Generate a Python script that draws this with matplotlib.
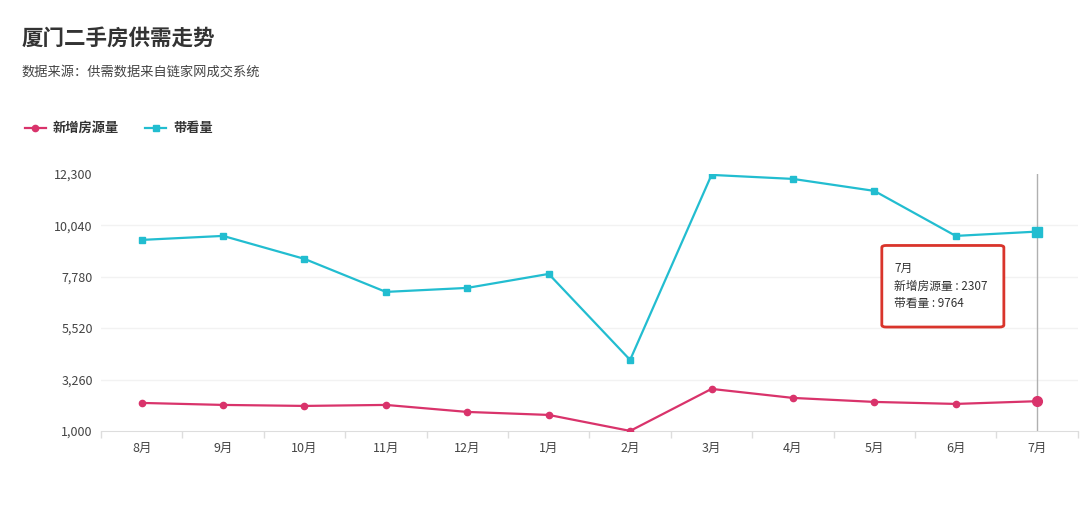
import matplotlib
matplotlib.use('Agg')
import matplotlib.pyplot as plt
from matplotlib.patches import FancyBboxPatch
import numpy as np

plt.rcParams['font.family'] = ['Noto Sans CJK SC', 'DejaVu Sans']

# data
months = ['8月', '9月', '10月', '11月', '12月', '1月', '2月', '3月', '4月', '5月', '6月', '7月']
new_listings = [2231, 2143, 2099, 2143, 1835, 1703, 1000, 2847, 2451, 2275, 2187, 2307]
viewings = [9398, 9574, 8563, 7112, 7288, 7903, 4122, 12256, 12080, 11553, 9574, 9764]
yticks = [1000, 3260, 5520, 7780, 10040, 12300]

pink = '#d9336b'
cyan = '#22bdd0'

fig = plt.figure(figsize=(10.8, 5.13), dpi=100)
ax = fig.add_axes([0.0935, 0.16, 0.9045, 0.501])

x = np.arange(len(months))
ax.axvline(x[-1], color='#b0b0b0', lw=1, zorder=1)
l1, = ax.plot(x, new_listings, color=pink, lw=1.6, marker='o', ms=4.5, zorder=3, label='新增房源量')
l2, = ax.plot(x, viewings, color=cyan, lw=1.6, marker='s', ms=4.5, zorder=3, label='带看量')
# hovered points
ax.plot(x[-1], new_listings[-1], 'o', color=pink, ms=7, zorder=4)
ax.plot(x[-1], viewings[-1], 's', color=cyan, ms=7, zorder=4)

ax.set_xlim(-0.5, len(months) - 0.5)
ax.set_ylim(yticks[0], yticks[-1])
ax.set_xticks(x)
ax.set_xticklabels(months)
ax.set_xticks(np.arange(len(months) + 1) - 0.5, minor=True)
ax.set_yticks(yticks)
ax.set_yticklabels(['{:,}'.format(v) for v in yticks])
ax.tick_params(axis='x', which='major', length=0, pad=8, labelsize=9, labelcolor='#444')
ax.tick_params(axis='x', which='minor', length=5, color='#dddddd', width=1)
ax.tick_params(axis='y', length=0, pad=6, labelsize=9, labelcolor='#444')
for yv in yticks[1:-1]:
    ax.axhline(yv, color='#f2f2f2', lw=1, zorder=0)
for s in ['top', 'right', 'left']:
    ax.spines[s].set_visible(False)
ax.spines['bottom'].set_color('#dddddd')

# title and subtitle
fig.text(0.02, 0.925, '厦门二手房供需走势', fontsize=15.5, fontweight='bold', color='#333333', va='center')
fig.text(0.02, 0.86, '数据来源：供需数据来自链家网成交系统', fontsize=9.5, color='#444444', va='center')

leg = fig.legend(handles=[l1, l2], loc='center left', bbox_to_anchor=(0.012, 0.75), ncol=2,
                 frameon=False, handlelength=1.6, columnspacing=2.0, handletextpad=0.5,
                 prop={'size': 9.5, 'weight': 'bold'})
for t in leg.get_texts():
    t.set_color('#333333')

# tooltip
box = FancyBboxPatch((0.8165, 0.3625), 0.113, 0.159, boxstyle='round,pad=0,rounding_size=0.004',
                     transform=fig.transFigure, facecolor='white', edgecolor='#d9342b', lw=2, zorder=10)
fig.add_artist(box)
fig.text(0.828, 0.477, months[-1], fontsize=8.5, color='#333333', va='center', zorder=11)
fig.text(0.828, 0.442, '新增房源量 : {}'.format(new_listings[-1]), fontsize=8.5, color='#333333', va='center', zorder=11)
fig.text(0.828, 0.409, '带看量 : {}'.format(viewings[-1]), fontsize=8.5, color='#333333', va='center', zorder=11)

fig.savefig('out.png', dpi=100)
